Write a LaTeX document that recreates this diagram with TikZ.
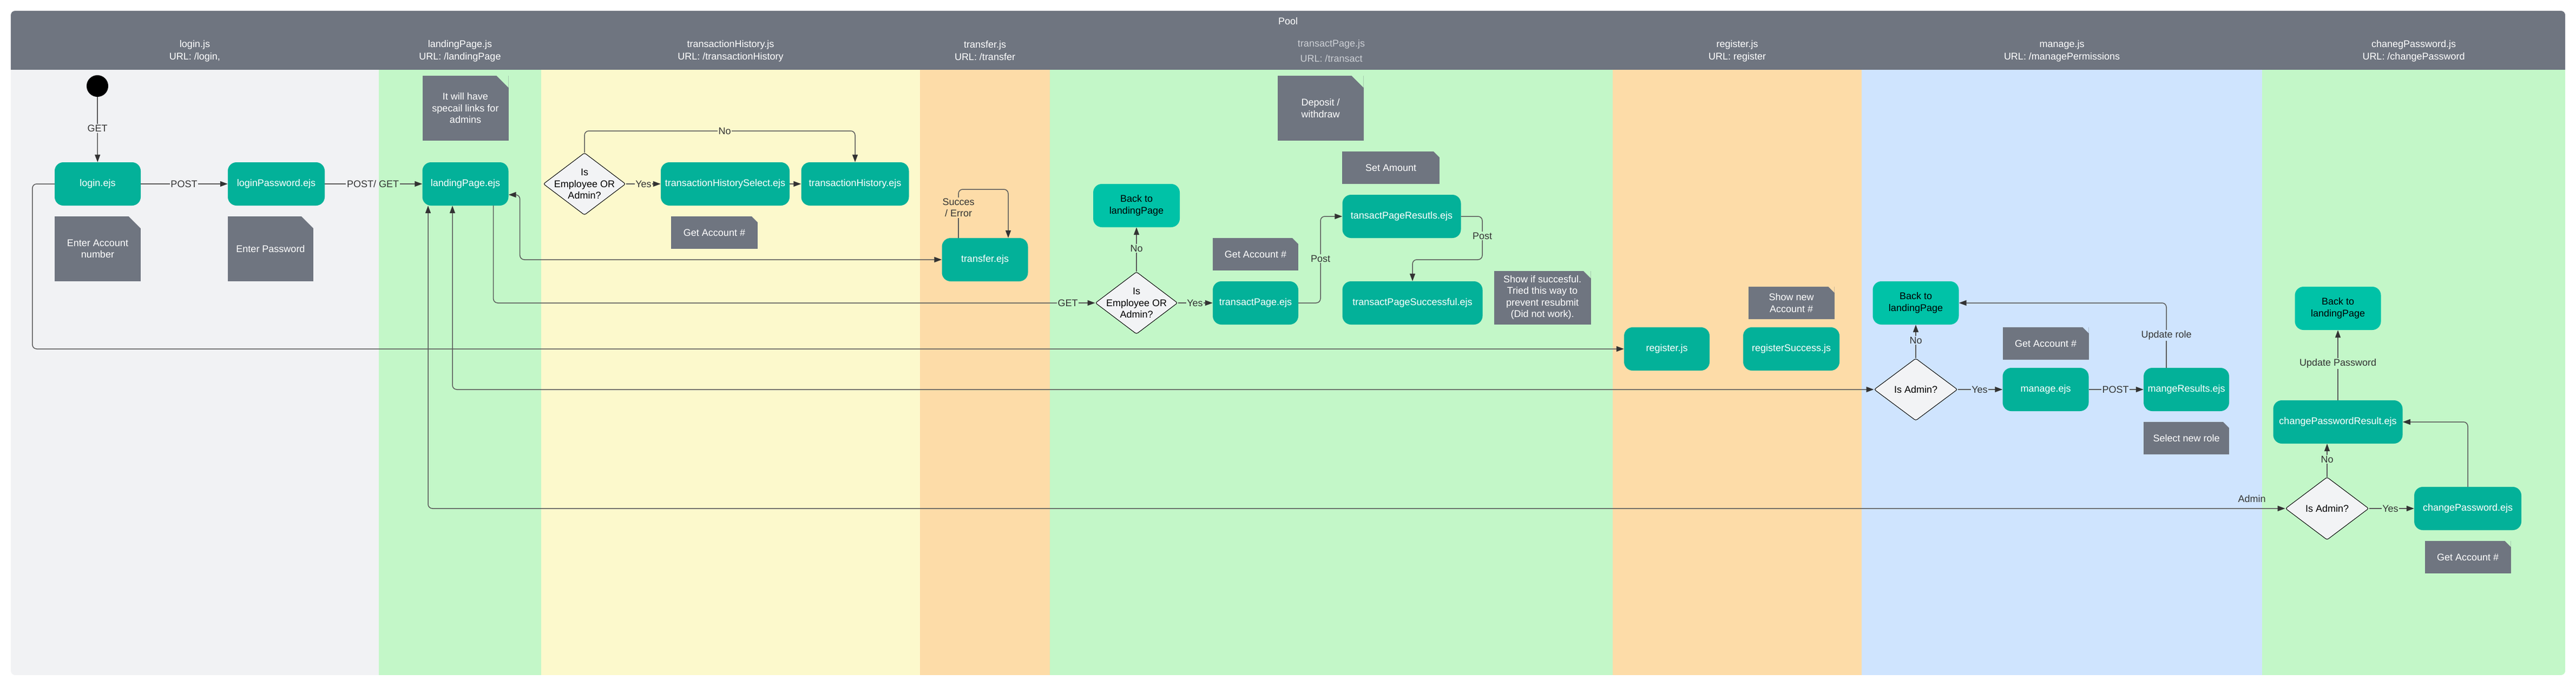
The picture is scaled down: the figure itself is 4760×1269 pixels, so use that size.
\documentclass[tikz,border=0pt]{standalone}
\usepackage{fontspec}
\setmainfont{Liberation Sans}
\usetikzlibrary{arrows.meta,shapes.geometric}
\definecolor{hdr}{HTML}{6F7580}
\definecolor{lgrey}{HTML}{F1F2F4}
\definecolor{lgreen}{HTML}{C3F7C8}
\definecolor{lyellow}{HTML}{FCF9CC}
\definecolor{lorange}{HTML}{FDDCA8}
\definecolor{lblue}{HTML}{CFE4FE}
\definecolor{tealA}{HTML}{03B199}
\definecolor{tealB}{HTML}{00C2A7}
\definecolor{notec}{HTML}{6F7580}
\definecolor{linec}{HTML}{5A5A5A}
\definecolor{arrc}{HTML}{333333}
\definecolor{diafill}{HTML}{F2F3F5}
\definecolor{dimtext}{HTML}{CDD0D5}
\begin{document}
\begin{tikzpicture}[x=1pt,y=-1pt,
  txt/.style={font=\fontsize{18}{21.5}\selectfont, align=center},
  ejs/.style={txt, rectangle, rounded corners=16pt, fill=tealA, text=white,
              minimum width=159pt, minimum height=80pt, inner sep=0pt},
  backbox/.style={ejs, fill=tealB, text=black},
  notebox/.style 2 args={txt, rectangle, fill=notec, text=white, inner sep=0pt,
      path picture={\fill[#1] ([xshift=-#2]path picture bounding box.north east)
          -- ([xshift=1pt,yshift=1pt]path picture bounding box.north east)
          -- ([yshift=-#2]path picture bounding box.north east) -- cycle;}},
  decision/.style={diamond, draw=black, line width=1pt, fill=diafill, rounded corners=3pt,
      minimum width=152pt, minimum height=115pt, inner sep=0pt},
  conn/.style={draw=linec, line width=1.5pt, rounded corners=8pt},
  arrowend/.style={-{Triangle[length=14pt,width=10pt,color=arrc]}},
  arrowboth/.style={{Triangle[length=14pt,width=10pt,color=arrc]}-{Triangle[length=14pt,width=10pt,color=arrc]}},
  lbl/.style={txt, text=arrc, inner sep=1.5pt},
  lanehead/.style={font=\fontsize{18}{23}\selectfont, align=center, text=white},
  dtext/.style={txt, text=black}
]
\useasboundingbox (0,0) rectangle (4760,1269);

% ---------- pool and lanes ----------
\begin{scope}
\clip[rounded corners=8pt] (20,20) rectangle (4740,1248);
\fill[lgrey]   (20,20)    rectangle (700,1248);
\fill[lgreen]  (700,129)  rectangle (1000,1248);
\fill[lyellow] (1000,129) rectangle (1700,1248);
\fill[lorange] (1700,129) rectangle (1940,1248);
\fill[lgreen]  (1940,129) rectangle (2980,1248);
\fill[lorange] (2980,129) rectangle (3440,1248);
\fill[lblue]   (3440,129) rectangle (4180,1248);
\fill[lgreen]  (4180,129) rectangle (4740,1248);
\fill[hdr]     (20,20)    rectangle (4740,129);
\end{scope}

\node[lanehead] (pool) at (2380,39) {Pool};
\node[lanehead] (hLogin)   at (360,94)  {login.js\\URL: /login,};
\node[lanehead] (hLanding) at (850,94)  {landingPage.js\\URL: /landingPage};
\node[lanehead] (hHist)    at (1350,94) {transactionHistory.js\\URL: /transactionHistory};
\node[lanehead] (hTransf)  at (1820,94) {transfer.js\\URL: /transfer};
\node[lanehead, text=dimtext, font=\fontsize{18}{28.5}\selectfont] (hTransact) at (2460,94) {transactPage.js\\URL: /transact};
\node[lanehead] (hReg)     at (3210,94) {register.js\\URL: register};
\node[lanehead] (hManage)  at (3810,94) {manage.js\\URL: /managePermissions};
\node[lanehead] (hChange)  at (4460,94) {chanegPassword.js\\URL: /changePassword};

% ---------- login lane ----------
\node[circle, fill=black, minimum size=40pt, inner sep=0pt] (start) at (180,159) {};
\node[ejs] (login) at (180.5,340) {login.ejs};
\node[ejs, minimum width=179pt] (lpass) at (510.5,340) {loginPassword.ejs};
\node[notebox={lgrey}{22pt}, minimum width=159pt, minimum height=120pt] (nEA) at (180.5,460) {Enter Account\\number};
\node[notebox={lgrey}{22pt}, minimum width=158pt, minimum height=120pt] (nEP) at (500,460) {Enter Password};

% ---------- landing lane ----------
\node[ejs] (lp) at (860,340) {landingPage.ejs};
\node[notebox={lgreen}{22pt}, minimum width=159pt, minimum height=120pt] (nLinks) at (860,200) {It will have\\specail links for\\admins};

% ---------- transaction history lane ----------
\node[decision] (d1) at (1080,340) {};
\node[dtext] (d1t) at (d1.center) {Is\\Employee OR\\Admin?};
\node[ejs, minimum width=238pt] (ths) at (1340,340) {transactionHistorySelect.ejs};
\node[ejs, minimum width=199pt] (th) at (1580,340) {transactionHistory.ejs};
\node[notebox={lyellow}{11pt}, minimum width=160pt, minimum height=60pt] (nGA1) at (1320,430) {Get Account \#};

% ---------- transfer lane ----------
\node[ejs] (transfer) at (1820,480) {transfer.ejs};

% ---------- transact lane ----------
\node[decision] (d2) at (2100,560) {};
\node[dtext] (d2t) at (d2.center) {Is\\Employee OR\\Admin?};
\node[backbox, minimum width=160pt] (back1) at (2100,380) {Back to\\landingPage};
\node[ejs, minimum width=158pt] (tp) at (2320,560) {transactPage.ejs};
\node[notebox={lgreen}{11pt}, minimum width=158pt, minimum height=60pt] (nGA2) at (2320,470) {Get Account \#};
\node[notebox={lgreen}{22pt}, minimum width=159pt, minimum height=120pt] (nDW) at (2440,200) {Deposit /\\withdraw};
\node[notebox={lgreen}{11pt}, minimum width=180pt, minimum height=60pt] (nSA) at (2570,310) {Set Amount};
\node[ejs, minimum width=219pt] (tpr) at (2590,400) {tansactPageResutls.ejs};
\node[ejs, minimum width=259pt] (tps) at (2610,560) {transactPageSuccessful.ejs};
\node[notebox={lgreen}{14pt}, minimum width=179pt, minimum height=99pt] (nShow) at (2850,550) {Show if succesful.\\Tried this way to\\prevent resubmit\\(Did not work).};

% ---------- register lane ----------
\node[ejs, minimum width=158pt] (reg) at (3080,645) {register.js};
\node[ejs, minimum width=178pt] (regS) at (3310,645) {registerSuccess.js};
\node[notebox={lorange}{11pt}, minimum width=159pt, minimum height=60pt] (nNew) at (3310,560) {Show new\\Account \#};

% ---------- manage lane ----------
\node[backbox] (back2) at (3540,560) {Back to\\landingPage};
\node[decision, minimum width=154pt] (dm) at (3540,720) {};
\node[dtext] (dmt) at (dm.center) {Is Admin?};
\node[ejs] (manage) at (3780,720) {manage.ejs};
\node[notebox={lblue}{11pt}, minimum width=159pt, minimum height=60pt] (nGA3) at (3780,635) {Get Account \#};
\node[ejs, minimum width=158pt] (mres) at (4040,720) {mangeResults.ejs};
\node[notebox={lblue}{11pt}, minimum width=158pt, minimum height=60pt] (nSel) at (4040,810) {Select new role};

% ---------- change password lane ----------
\node[backbox] (back3) at (4320,570) {Back to\\landingPage};
\node[ejs, minimum width=239pt] (cpr) at (4320,780) {changePasswordResult.ejs};
\node[decision, minimum width=154pt, minimum height=116pt] (dc) at (4300,940) {};
\node[dtext] (dct) at (dc.center) {Is Admin?};
\node[ejs, minimum width=198pt] (cp) at (4560,940) {changePassword.ejs};
\node[notebox={lgreen}{11pt}, minimum width=159pt, minimum height=60pt] (nGA4) at (4560,1030) {Get Account \#};

% ---------- edge labels ----------
\node[lbl] (lGET0)  at (180,237.5) {GET};
\node[lbl] (lPOST1) at (340,340)  {POST};
\node[lbl] (lPG)    at (689,340)  {POST/ GET};
\node[lbl] (lYes1)  at (1189,340) {Yes};
\node[lbl] (lNo1)   at (1339,242) {No};
\node[lbl] (lSE)    at (1771,384) {Succes\\/ Error};
\node[lbl] (lGET2)  at (1973,560) {GET};
\node[lbl] (lNo2)   at (2100,459) {No};
\node[lbl] (lYes2)  at (2208,560) {Yes};
\node[lbl] (lPost1) at (2440,478) {Post};
\node[lbl] (lPost2) at (2739,436) {Post};
\node[lbl] (lNo3)   at (3540,629) {No};
\node[lbl] (lYes3)  at (3658,720) {Yes};
\node[lbl] (lPOST3) at (3909,720) {POST};
\node[lbl] (lUR)    at (4003,620) {Update role};
\node[lbl] (lNo4)   at (4300,849) {No};
\node[lbl] (lYes4)  at (4417,940) {Yes};
\node[lbl] (lUP)    at (4320,672) {Update Password};
\node[lbl] (lAdmin) at (4161,922) {Admin};

\coordinate (loopTop) at (1863,350);
\coordinate (postBend) at (2739,480);

% ---------- connectors ----------
\draw[conn] (start) -- (lGET0);
\draw[conn,arrowend] (lGET0) -- (login);
\draw[conn] (login) -- (lPOST1);
\draw[conn,arrowend] (lPOST1) -- (lpass);
\draw[conn] (lpass) -- (lPG);
\draw[conn,arrowend] (lPG) -- (lp);

\draw[conn,arrowboth] ([yshift=-20pt]lp.east) -- ++(21,0) |- (transfer.west);
\draw[conn,arrowend] (login.west) -- ++(-41,0) |- (reg.west);
\draw[conn] ([xshift=51.6pt]lp.south) |- (lGET2);
\draw[conn,arrowend] (lGET2) -- (d2.west);
\draw[conn,arrowboth] ([xshift=-24pt]lp.south) |- (dm.west);
\draw[conn,arrowboth] ([xshift=-69pt]lp.south) |- (dc.west);

\draw[conn] (d1.east) -- (lYes1);
\draw[conn,arrowend] (lYes1) -- (ths.west);
\draw[conn,arrowend] (ths) -- (th);
\draw[conn] (d1.north) |- (lNo1);
\draw[conn,arrowend] (lNo1) -| (th.north);

\draw[conn] ([xshift=-49pt]transfer.north) -- (lSE);
\draw[conn,arrowend] (lSE.north) |- (loopTop) -- (loopTop |- transfer.north);

\draw[conn] (d2.north) -- (lNo2);
\draw[conn,arrowend] (lNo2) -- (back1.south);
\draw[conn] (d2.east) -- (lYes2);
\draw[conn,arrowend] (lYes2) -- (tp.west);
\draw[conn] (tp.east) -| (lPost1);
\draw[conn,arrowend] (lPost1) |- (tpr.west);
\draw[conn] (tpr.east) -| (lPost2);
\draw[conn,arrowend] (lPost2) -- (postBend) -| (tps.north);

\draw[conn] (dm.north) -- (lNo3);
\draw[conn,arrowend] (lNo3) -- (back2.south);
\draw[conn] (dm.east) -- (lYes3);
\draw[conn,arrowend] (lYes3) -- (manage.west);
\draw[conn] (manage.east) -- (lPOST3);
\draw[conn,arrowend] (lPOST3) -- (mres.west);
\draw[conn] ([xshift=-37pt]mres.north) -- (lUR);
\draw[conn,arrowend] (lUR) |- (back2.east);

\draw[conn] (dc.north) -- (lNo4);
\draw[conn,arrowend] (lNo4) -- (lNo4 |- cpr.south);
\draw[conn] (dc.east) -- (lYes4);
\draw[conn,arrowend] (lYes4) -- (cp.west);
\draw[conn,arrowend] (cp.north) |- (cpr.east);
\draw[conn] (cpr.north) -- (lUP);
\draw[conn,arrowend] (lUP) -- (back3.south);
\end{tikzpicture}
\end{document}
